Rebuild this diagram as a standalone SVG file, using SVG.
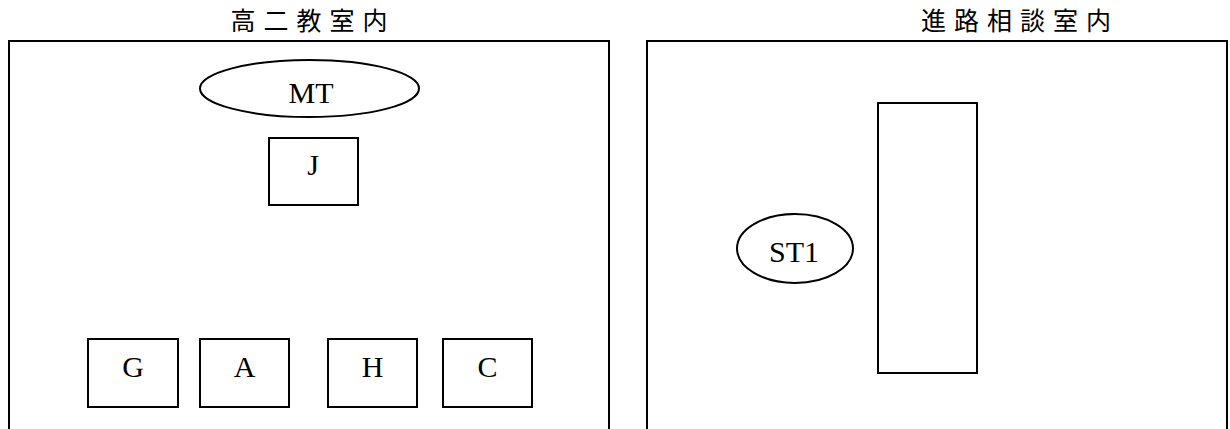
<svg xmlns="http://www.w3.org/2000/svg" width="1230" height="429" viewBox="0 0 1230 429">
<style>
.room{fill:none;stroke:#000;stroke-width:2}
.box{fill:#fff;stroke:#000;stroke-width:2}
.title{font-family:"Noto Sans CJK JP","Noto Sans CJK SC",sans-serif;font-size:25px;letter-spacing:8px;fill:#000;text-anchor:middle}
.lbl{font-family:"Liberation Serif","DejaVu Serif",serif;font-size:30px;fill:#000;text-anchor:middle}
</style>
<rect width="1230" height="429" fill="#fff"/>
<g id="room-left">
<text class="title" x="313" y="30">高二教室内</text>
<path class="room" d="M9,441 V41 H609 V441"/>
</g>
<g id="room-right">
<text class="title" x="1020" y="30">進路相談室内</text>
<path class="room" d="M647,441 V41 H1227 V441"/>
</g>
<g id="MT"><ellipse class="box" cx="309.5" cy="88.5" rx="109.5" ry="28.5"/><text class="lbl" x="311" y="103">MT</text></g>
<g id="J"><rect class="box" x="269" y="138" width="89" height="67"/><text class="lbl" x="313" y="175">J</text></g>
<g id="G"><rect class="box" x="88" y="339" width="90" height="68"/><text class="lbl" x="133" y="377">G</text></g>
<g id="A"><rect class="box" x="200" y="339" width="89" height="68"/><text class="lbl" x="244.5" y="377">A</text></g>
<g id="H"><rect class="box" x="328" y="339" width="89" height="68"/><text class="lbl" x="372.5" y="377">H</text></g>
<g id="C"><rect class="box" x="443" y="339" width="89" height="68"/><text class="lbl" x="487.5" y="377">C</text></g>
<g id="ST1"><ellipse class="box" cx="795" cy="248.5" rx="58" ry="34.5"/><text class="lbl" x="794" y="262">ST1</text></g>
<g id="desk"><rect class="box" x="878" y="103" width="99" height="270"/></g>
<g id="connectors"></g>
</svg>
